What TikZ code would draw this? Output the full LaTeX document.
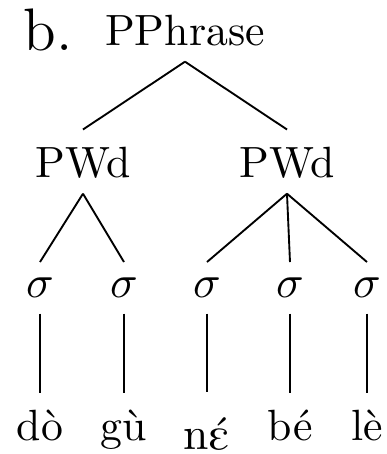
\documentclass[tikz,border=0pt]{standalone}
\usepackage{tipa}

\tikzset{
  cat/.style={font=\fontsize{10.5}{12}\selectfont, inner xsep=0pt, inner ysep=3.8pt,
    text height=7.4pt, text depth=0pt, anchor=base},
  syl/.style={cat, text height=4.4pt},
  branch/.style={line width=0.45pt},
}

\begin{document}
\begin{tikzpicture}[x=0.24pt, y=-0.24pt]
  \useasboundingbox (0,0) rectangle (386,454);

  % Example label
  \node[anchor=base west, inner sep=0pt, font=\fontsize{14.4}{17}\selectfont] (ex) at (23,50) {b.};

  % Phonological phrase
  \node[cat] (pp) at (185,45) {PPhrase};

  % Prosodic words
  \node[cat] (pw1) at (83,177) {PWd};
  \node[cat] (pw2) at (287,177) {PWd};

  % Syllables
  \node[syl] (s1) at (40,297) {$\sigma$};
  \node[syl] (s2) at (124,297) {$\sigma$};
  \node[syl] (s3) at (207,297) {$\sigma$};
  \node[syl] (s4) at (290,297) {$\sigma$};
  \node[syl] (s5) at (367,297) {$\sigma$};

  % Segments
  \node[cat] (w1) at (40,440) {dò};
  \node[cat] (w2) at (124,440) {gù};
  \node[cat, text height=9.6pt] (w3) at (207,449) {\textipa{n\'E}};
  \node[cat] (w4) at (290,440) {bé};
  \node[cat] (w5) at (367,440) {lè};

  % Branches
  \draw[branch] (pp.south) -- (pw1.north);
  \draw[branch] (pp.south) -- (pw2.north);

  \draw[branch] (pw1.south) -- (s1.north);
  \draw[branch] (pw1.south) -- (s2.north);
  \draw[branch] (pw2.south) -- (s3.north);
  \draw[branch] (pw2.south) -- (s4.north);
  \draw[branch] (pw2.south) -- (s5.north);

  \draw[branch] (s1.south) -- (w1.north);
  \draw[branch] (s2.south) -- (w2.north);
  \draw[branch] (s3.south) -- (w3.north);
  \draw[branch] (s4.south) -- (w4.north);
  \draw[branch] (s5.south) -- (w5.north);
\end{tikzpicture}
\end{document}
